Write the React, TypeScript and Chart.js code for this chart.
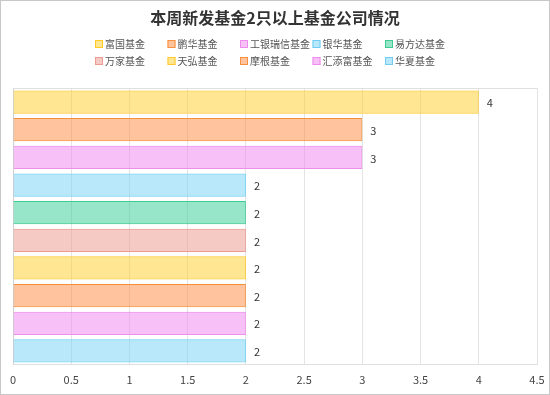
import React, { useEffect, useRef } from "react";
import { Chart, registerables } from "chart.js";

Chart.register(...registerables);

const categories = ["富国基金", "鹏华基金", "工银瑞信基金", "银华基金", "易方达基金", "万家基金", "天弘基金", "摩根基金", "汇添富基金", "华夏基金"];
const values = [4, 3, 3, 2, 2, 2, 2, 2, 2, 2];
const fills = [
  "rgba(255,205,40,0.5)",
  "rgba(255,135,60,0.5)",
  "rgba(240,130,240,0.5)",
  "rgba(115,210,245,0.5)",
  "rgba(50,205,150,0.5)",
  "rgba(236,150,140,0.5)",
  "rgba(255,205,40,0.5)",
  "rgba(255,135,60,0.5)",
  "rgba(240,130,240,0.5)",
  "rgba(115,210,245,0.5)",
];
const borders = ["#FFC928", "#F5913E", "#EE8EEA", "#6FCDF3", "#3DCB90", "#EE9A90", "#FFC928", "#F5913E", "#EE8EEA", "#6FCDF3"];
const titleText = "本周新发基金2只以上基金公司情况";
const FONT = "'Microsoft YaHei', 'Noto Sans CJK SC', 'Noto Sans', sans-serif";

const gridLegend = {
  id: "gridLegend",
  afterDraw(chart: any) {
    const ctx = chart.ctx;
    const colW = 72.5;
    const cols = 5;
    const x0 = chart.width / 2 - 180;
    const rowsY = [43, 60];
    ctx.save();
    ctx.font = `10px ${FONT}`;
    ctx.textBaseline = "middle";
    ctx.textAlign = "left";
    categories.forEach((c, i) => {
      const col = i % cols;
      const row = Math.floor(i / cols);
      const x = x0 + col * colW;
      const y = rowsY[row];
      ctx.fillStyle = "#fff";
      ctx.fillRect(x, y - 4, 8, 8);
      ctx.fillStyle = fills[i];
      ctx.fillRect(x, y - 4, 8, 8);
      ctx.strokeStyle = borders[i];
      ctx.lineWidth = 1;
      ctx.strokeRect(x + 0.5, y - 3.5, 7, 7);
      ctx.fillStyle = "#555";
      ctx.fillText(c, x + 10, y + 0.5);
    });
    ctx.restore();
  },
};

const valueLabels = {
  id: "valueLabels",
  afterDatasetsDraw(chart: any) {
    const ctx = chart.ctx;
    const meta = chart.getDatasetMeta(0);
    ctx.save();
    ctx.font = `11px ${FONT}`;
    ctx.fillStyle = "#333";
    ctx.textBaseline = "middle";
    ctx.textAlign = "left";
    meta.data.forEach((bar: any, i: number) => {
      ctx.fillText(String(values[i]), bar.x + 8, bar.y + 1);
    });
    ctx.restore();
  },
};

const topLine = {
  id: "topLine",
  beforeDatasetsDraw(chart: any) {
    const { ctx, chartArea } = chart;
    ctx.save();
    ctx.strokeStyle = "#e0e0e0";
    ctx.lineWidth = 1;
    ctx.beginPath();
    ctx.moveTo(chartArea.left, Math.round(chartArea.top) + 0.5);
    ctx.lineTo(chartArea.right, Math.round(chartArea.top) + 0.5);
    ctx.stroke();
    ctx.restore();
  },
};

export default function App() {
  const ref = useRef<HTMLCanvasElement>(null);
  useEffect(() => {
    document.body.style.margin = "0";
    const chart = new Chart(ref.current!, {
      type: "bar",
      data: {
        labels: categories,
        datasets: [
          {
            label: "数量",
            data: values,
            backgroundColor: fills,
            borderColor: borders,
            borderWidth: 1,
            categoryPercentage: 1,
            barPercentage: 0.84,
          },
        ],
      },
      options: {
        indexAxis: "y",
        animation: false,
        responsive: false,
        layout: { padding: { left: 12, right: 12, bottom: 0, top: 0 } },
        plugins: {
          legend: { display: false },
          tooltip: { enabled: false },
          title: {
            display: true,
            text: titleText,
            color: "#333",
            font: { family: FONT, size: 16, weight: "bold" },
            padding: { top: 7, bottom: 61 },
          },
        },
        scales: {
          x: {
            min: 0,
            max: 4.5,
            afterFit: (scale: any) => {
              scale.paddingRight = 0;
              scale.paddingLeft = 0;
            },
            ticks: {
              stepSize: 0.5,
              color: "#444",
              font: { family: FONT, size: 11 },
              padding: 8,
              callback: (v: any) => String(Number(v)),
            },
            grid: { color: "#e4e4e4", drawTicks: false },
            border: { color: "#e0e0e0" },
          },
          y: {
            ticks: { display: false },
            grid: { display: false, drawTicks: false },
            border: { display: true, color: "#d0d0d0" },
          },
        },
      },
      plugins: [topLine, valueLabels, gridLegend],
    });
    return () => chart.destroy();
  }, []);
  return (
    <div style={{ width: 550, height: 395, boxSizing: "border-box", border: "1px solid #c8c8c8" }}>
      <canvas ref={ref} width={548} height={393} style={{ display: "block" }} />
    </div>
  );
}
